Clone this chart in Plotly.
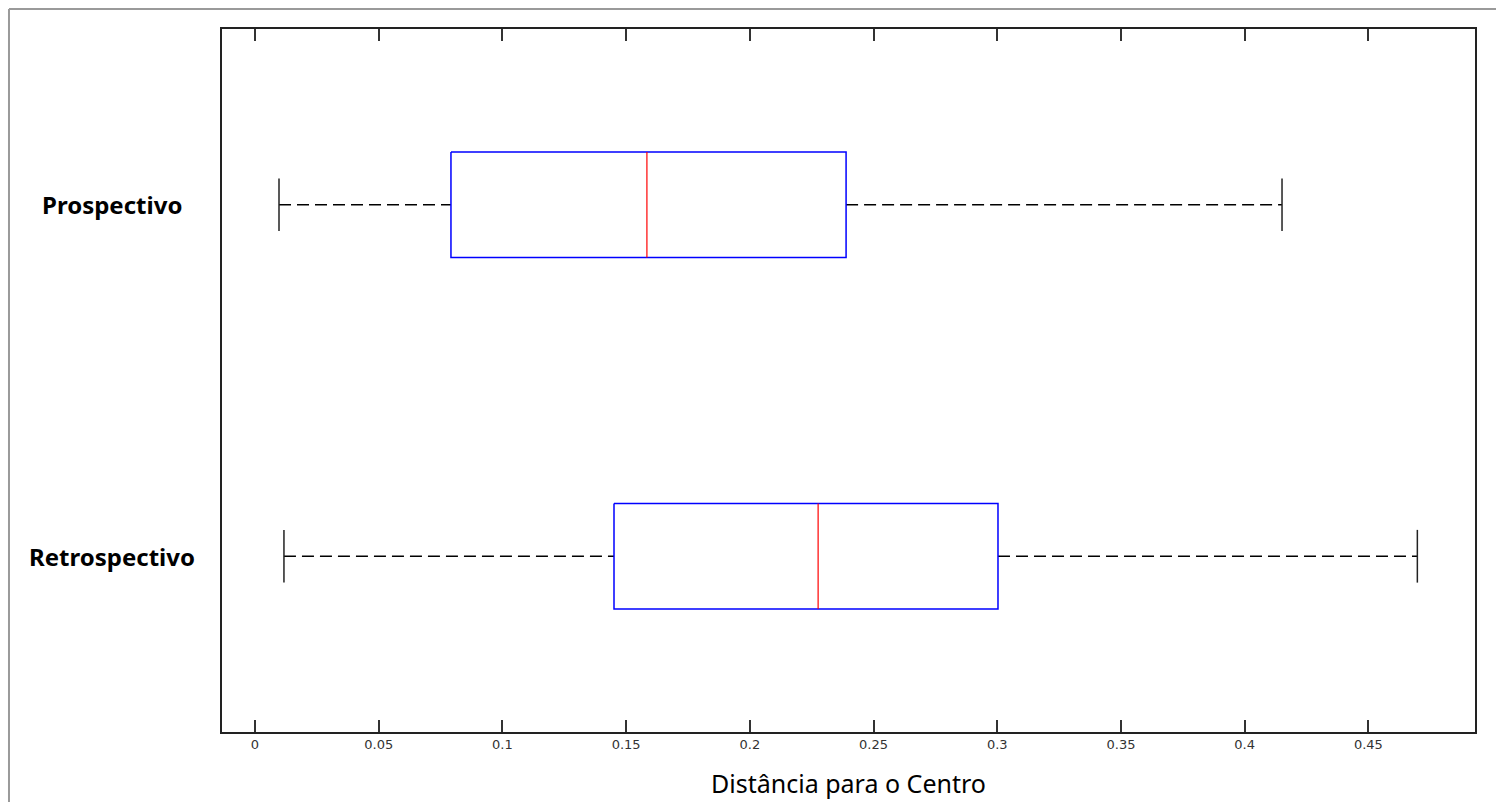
import plotly.graph_objects as go

# Summary statistics of the distance to the centre for each group
groups = ["Prospectivo", "Retrospectivo"]
lower_whisker = [0.0097, 0.0117]
q1 = [0.0792, 0.1451]
median = [0.1584, 0.2276]
q3 = [0.2389, 0.3003]
upper_whisker = [0.4151, 0.4698]

tick_vals = [0, 0.05, 0.1, 0.15, 0.2, 0.25, 0.3, 0.35, 0.4, 0.45]
tick_text = ["0", "0.05", "0.1", "0.15", "0.2", "0.25", "0.3", "0.35", "0.4", "0.45"]

BOX_HALF = 0.15
CAP_HALF = 0.075

fig = go.Figure()

for i, name in enumerate(groups):
    yc = i + 1
    # dashed whiskers from the caps to the box edges
    fig.add_trace(go.Scatter(
        x=[lower_whisker[i], q1[i], None, q3[i], upper_whisker[i]],
        y=[yc, yc, None, yc, yc],
        mode="lines", line=dict(color="black", width=1.6, dash="12px,6px"),
        hoverinfo="skip", showlegend=False))
    # whisker caps
    fig.add_trace(go.Scatter(
        x=[lower_whisker[i], lower_whisker[i], None, upper_whisker[i], upper_whisker[i]],
        y=[yc - CAP_HALF, yc + CAP_HALF, None, yc - CAP_HALF, yc + CAP_HALF],
        mode="lines", line=dict(color="#222222", width=1.5),
        hoverinfo="skip", showlegend=False))
    # interquartile box
    fig.add_trace(go.Scatter(
        x=[q1[i], q3[i], q3[i], q1[i], q1[i]],
        y=[yc - BOX_HALF, yc - BOX_HALF, yc + BOX_HALF, yc + BOX_HALF, yc - BOX_HALF],
        mode="lines", line=dict(color="#0000ff", width=1.5),
        name=name, showlegend=False))
    # median
    fig.add_trace(go.Scatter(
        x=[median[i], median[i]],
        y=[yc - BOX_HALF, yc + BOX_HALF],
        mode="lines", line=dict(color="#ff0000", width=1.2),
        hoverinfo="skip", showlegend=False))
    # group label
    fig.add_annotation(
        x=-0.0878, xref="paper", y=yc, yref="y",
        text="<b>%s</b>" % name, showarrow=False,
        xanchor="center", yanchor="middle",
        font=dict(family="Noto Sans", size=24, color="black"))

# outer frame around the figure
fig.add_shape(type="line", xref="paper", yref="paper",
              x0=-0.170, x1=1.05, y0=1.0284, y1=1.0284,
              line=dict(color="#9a9a9a", width=2))
fig.add_shape(type="line", xref="paper", yref="paper",
              x0=-0.170, x1=-0.170, y0=1.0284, y1=-0.2,
              line=dict(color="#9a9a9a", width=2))

fig.update_layout(
    width=1496, height=802,
    margin=dict(l=222, r=21, t=29, b=70),
    paper_bgcolor="white", plot_bgcolor="white",
    xaxis=dict(
        range=[-0.01334, 0.4931],
        automargin=False,
        tickvals=tick_vals, ticktext=tick_text,
        ticks="inside", ticklen=12, tickcolor="#333333", tickwidth=1.5,
        showline=True, linecolor="#222222", linewidth=1.5, mirror="ticks",
        showgrid=False, zeroline=False,
        tickfont=dict(family="DejaVu Sans", size=13, color="#333333"),
        title=dict(text="Distância para o Centro", standoff=24,
                   font=dict(family="Noto Sans", size=25, color="black")),
    ),
    yaxis=dict(
        range=[2.5, 0.5],
        automargin=False,
        showticklabels=False, ticks="",
        showline=True, linecolor="#222222", linewidth=1.5, mirror=True,
        showgrid=False, zeroline=False,
    ),
)

fig.write_html("out.html")
